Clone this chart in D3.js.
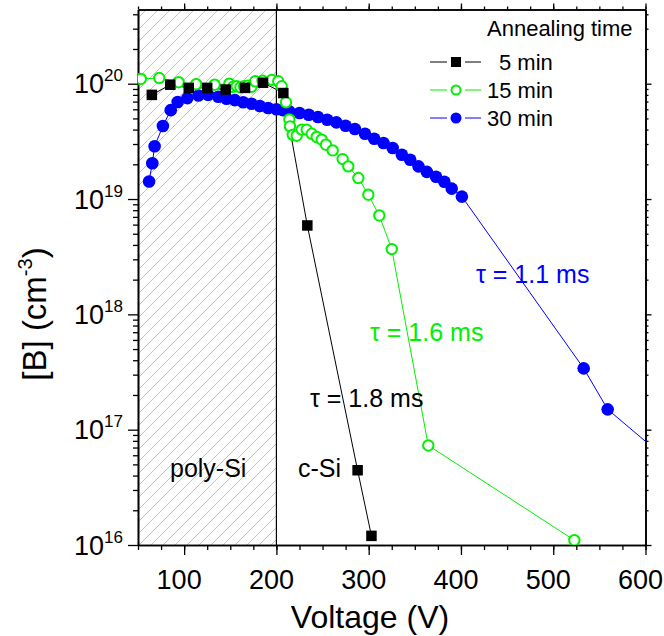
<!DOCTYPE html>
<html>
<head>
<meta charset="utf-8">
<script src="https://cdn.jsdelivr.net/npm/d3@7"></script>
<style>
  html, body { margin: 0; padding: 0; background: #fff; }
  svg { display: block; font-family: "Liberation Sans", Arial, sans-serif; }
</style>
</head>
<body>
<svg id="chart" width="664" height="636"></svg>
<script>
// Boron concentration vs. voltage for three annealing times
const voltage5  = [65, 85, 105, 125, 145, 166, 185.5, 207.5, 233.5, 288, 303];
const boron5    = [8.0e19, 9.8e19, 9.2e19, 9.2e19, 8.9e19, 9.2e19, 1.02e20, 8.3e19, 5.9e18, 4.45e16, 1.2e16];

const voltage15 = [53, 73, 94, 113, 133, 149, 153, 157, 161, 165, 169, 173, 177, 185, 195, 202, 205.7,
                   210.4, 214, 214.7, 217.7, 222, 227.4, 232.8, 238.3, 243.7, 249.1, 253.7, 261, 271.8,
                   277.9, 288.8, 299.6, 311.5, 325, 364.6, 522.9];
const boron15   = [1.1e20, 1.12e20, 1.03e20, 9.9e19, 9.8e19, 1.0e20, 9.4e19, 9.5e19, 9.3e19, 9.5e19, 9.6e19,
                   9.4e19, 1.05e20, 1.06e20, 1.08e20, 1.05e20, 9.5e19, 6.9e19, 4.9e19, 4.27e19, 3.6e19,
                   3.54e19, 4.0e19, 4.0e19, 3.68e19, 3.45e19, 3.27e19, 2.96e19, 2.64e19, 2.22e19, 1.92e19,
                   1.52e19, 1.09e19, 7.2e18, 3.68e18, 7.3e16, 1.1e16];

const voltage30 = [62, 65.5, 68, 77, 85.5, 93, 103.5, 115.5, 126, 137, 146, 155, 164, 173, 182, 191, 200,
                   207, 214, 225, 235, 245, 255, 265, 275, 285, 296, 306, 316, 326, 336, 345, 354, 363,
                   373, 382, 390, 401, 533, 559, 620];
const boron30   = [1.42e19, 2.04e19, 2.87e19, 4.3e19, 5.9e19, 6.95e19, 7.5e19, 7.9e19, 8.0e19, 7.7e19,
                   7.4e19, 7.2e19, 6.9e19, 6.7e19, 6.4e19, 6.15e19, 6.0e19, 5.9e19, 5.75e19, 5.57e19,
                   5.38e19, 5.14e19, 4.87e19, 4.62e19, 4.32e19, 4.05e19, 3.68e19, 3.33e19, 3.06e19,
                   2.77e19, 2.42e19, 2.19e19, 1.92e19, 1.72e19, 1.56e19, 1.41e19, 1.23e19, 1.05e19,
                   3.4e17, 1.5e17, 5.8e16];

const seriesNames = ["5 min", "15 min", "30 min"];
const xTickLabels = [100, 200, 300, 400, 500, 600];
const yTickExponents = [16, 17, 18, 19, 20];
const xDomain = [50, 600];
const yDomain = [1e16, 4.4e20];
const polySiBoundary = 200;

const GREEN = "#00f000", BLUE = "#0000ff";

const svg = d3.select("#chart");
const pLeft = 138, pRight = 645.5, pTop = 9.5, pBottom = 545;

const x = d3.scaleLinear().domain(xDomain).range([pLeft, pRight]);
const y = d3.scaleLog().domain(yDomain).range([pBottom, pTop]);

const defs = svg.append("defs");
defs.append("clipPath").attr("id", "plotClip")
  .append("rect").attr("x", pLeft).attr("y", pTop).attr("width", pRight - pLeft).attr("height", pBottom - pTop);

const hatch = defs.append("pattern").attr("id", "hatch")
  .attr("patternUnits", "userSpaceOnUse").attr("width", 12).attr("height", 12);
hatch.append("path").attr("d", "M-3,3 L3,-3 M0,12 L12,0 M9,15 L15,9")
  .attr("stroke", "#c2c2c2").attr("stroke-width", 1);

// poly-Si region
svg.append("rect")
  .attr("x", x(xDomain[0])).attr("y", pTop)
  .attr("width", x(polySiBoundary) - x(xDomain[0])).attr("height", pBottom - pTop)
  .attr("fill", "url(#hatch)");
svg.append("line")
  .attr("x1", x(polySiBoundary)).attr("x2", x(polySiBoundary))
  .attr("y1", pTop).attr("y2", pBottom)
  .attr("stroke", "#000").attr("stroke-width", 1.2);

// Axes (box with outward ticks on all four sides)
const xMinor = d3.range(50, 601, 25);
const yMinor = [];
for (let e = 16; e <= 20; e++) for (let k = 2; k <= 9; k++) {
  const v = k * Math.pow(10, e);
  if (v <= yDomain[1]) yMinor.push(v);
}
const yMajor = yTickExponents.map(e => Math.pow(10, e));

const axisStyle = g => {
  g.select(".domain").attr("stroke-width", 1.6);
  g.selectAll(".tick line").attr("stroke-width", 1.3);
  g.selectAll("text").remove();
};

svg.append("g").attr("transform", `translate(0,${pBottom})`)
  .call(d3.axisBottom(x).tickValues(xMinor).tickSize(5).tickSizeOuter(0)).call(axisStyle);
svg.append("g").attr("transform", `translate(0,${pBottom})`)
  .call(d3.axisBottom(x).tickValues(xTickLabels).tickSize(10).tickSizeOuter(0)).call(axisStyle);
svg.append("g").attr("transform", `translate(0,${pTop})`)
  .call(d3.axisTop(x).tickValues(xMinor).tickSize(3).tickSizeOuter(0)).call(axisStyle);
svg.append("g").attr("transform", `translate(0,${pTop})`)
  .call(d3.axisTop(x).tickValues(xTickLabels).tickSize(6).tickSizeOuter(0)).call(axisStyle);

svg.append("g").attr("transform", `translate(${pLeft},0)`)
  .call(d3.axisLeft(y).tickValues(yMinor).tickSize(5).tickSizeOuter(0)).call(axisStyle);
svg.append("g").attr("transform", `translate(${pLeft},0)`)
  .call(d3.axisLeft(y).tickValues(yMajor).tickSize(10).tickSizeOuter(0)).call(axisStyle);
svg.append("g").attr("transform", `translate(${pRight},0)`)
  .call(d3.axisRight(y).tickValues(yMinor).tickSize(3).tickSizeOuter(0)).call(axisStyle);
svg.append("g").attr("transform", `translate(${pRight},0)`)
  .call(d3.axisRight(y).tickValues(yMajor).tickSize(6).tickSizeOuter(0)).call(axisStyle);

// Tick labels (set slightly left of their ticks)
svg.append("g").selectAll("text").data(xTickLabels).join("text")
  .attr("x", d => x(d) - 5).attr("y", 589)
  .attr("text-anchor", "middle").attr("font-size", 27).text(d => d);

const yLab = svg.append("g").selectAll("text").data(yTickExponents).join("text")
  .attr("x", 123).attr("y", d => y(Math.pow(10, d)) + 9.5)
  .attr("text-anchor", "end").attr("font-size", 27);
yLab.append("tspan").text("10");
yLab.append("tspan").attr("font-size", 17).attr("dy", -12).text(d => d);

// Axis titles
svg.append("text").attr("x", 370).attr("y", 628).attr("text-anchor", "middle")
  .attr("font-size", 32).text("Voltage (V)");
const yt = svg.append("text").attr("transform", "translate(46,314) rotate(-90)")
  .attr("text-anchor", "middle").attr("font-size", 33);
yt.append("tspan").text("[B] (cm");
yt.append("tspan").attr("font-size", 20).attr("dy", -14).text("-3");
yt.append("tspan").attr("dy", 14).text(")");

// Data
const plot = svg.append("g").attr("clip-path", "url(#plotClip)");
const line = d3.line().x(d => x(d[0])).y(d => y(d[1]));
const pts = (vs, bs) => vs.map((v, i) => [v, bs[i]]);

const d5 = pts(voltage5, boron5), d15 = pts(voltage15, boron15), d30 = pts(voltage30, boron30);

plot.append("path").attr("d", line(d30)).attr("fill", "none").attr("stroke", BLUE).attr("stroke-width", 1);
plot.append("path").attr("d", line(d5)).attr("fill", "none").attr("stroke", "#000").attr("stroke-width", 1);
plot.append("path").attr("d", line(d15)).attr("fill", "none").attr("stroke", GREEN).attr("stroke-width", 1);

plot.append("g").selectAll("circle").data(d30).join("circle")
  .attr("cx", d => x(d[0])).attr("cy", d => y(d[1])).attr("r", 6.3).attr("fill", BLUE);
plot.append("g").selectAll("circle").data(d15).join("circle")
  .attr("cx", d => x(d[0])).attr("cy", d => y(d[1])).attr("r", 5.2)
  .attr("fill", "#fff").attr("stroke", GREEN).attr("stroke-width", 2);
plot.append("g").selectAll("rect").data(d5).join("rect")
  .attr("x", d => x(d[0]) - 5.25).attr("y", d => y(d[1]) - 5.25)
  .attr("width", 10.5).attr("height", 10.5).attr("fill", "#000");

// Annotations
const note = (tx, ty, txt, col) => svg.append("text").attr("x", tx).attr("y", ty)
  .attr("font-size", 25).attr("fill", col).text(txt);
note(476, 283, "τ = 1.1 ms", BLUE);
note(370, 341, "τ = 1.6 ms", GREEN);
note(310, 407, "τ = 1.8 ms", "#000");
note(298, 477, "c-Si", "#000");
note(170, 477, "poly-Si", "#000");

// Legend
const lg = svg.append("g");
lg.append("text").attr("x", 487).attr("y", 36).attr("font-size", 22).text("Annealing time");
const rows = [
  { name: seriesNames[0], yy: 62, col: "#000", tx: 499 },
  { name: seriesNames[1], yy: 90, col: GREEN, tx: 487 },
  { name: seriesNames[2], yy: 118, col: BLUE, tx: 487 }
];
rows.forEach((r, i) => {
  lg.append("line").attr("x1", 430).attr("x2", 447).attr("y1", r.yy).attr("y2", r.yy)
    .attr("stroke", r.col).attr("stroke-width", 1);
  lg.append("line").attr("x1", 465).attr("x2", 481).attr("y1", r.yy).attr("y2", r.yy)
    .attr("stroke", r.col).attr("stroke-width", 1);
  if (i === 0) lg.append("rect").attr("x", 451).attr("y", r.yy - 5).attr("width", 10).attr("height", 10).attr("fill", "#000");
  if (i === 1) lg.append("circle").attr("cx", 456).attr("cy", r.yy).attr("r", 4.5)
    .attr("fill", "#fff").attr("stroke", GREEN).attr("stroke-width", 2);
  if (i === 2) lg.append("circle").attr("cx", 456).attr("cy", r.yy).attr("r", 5.5).attr("fill", BLUE);
  lg.append("text").attr("x", r.tx).attr("y", r.yy + 8).attr("font-size", 22).text(r.name);
});
</script>
</body>
</html>
